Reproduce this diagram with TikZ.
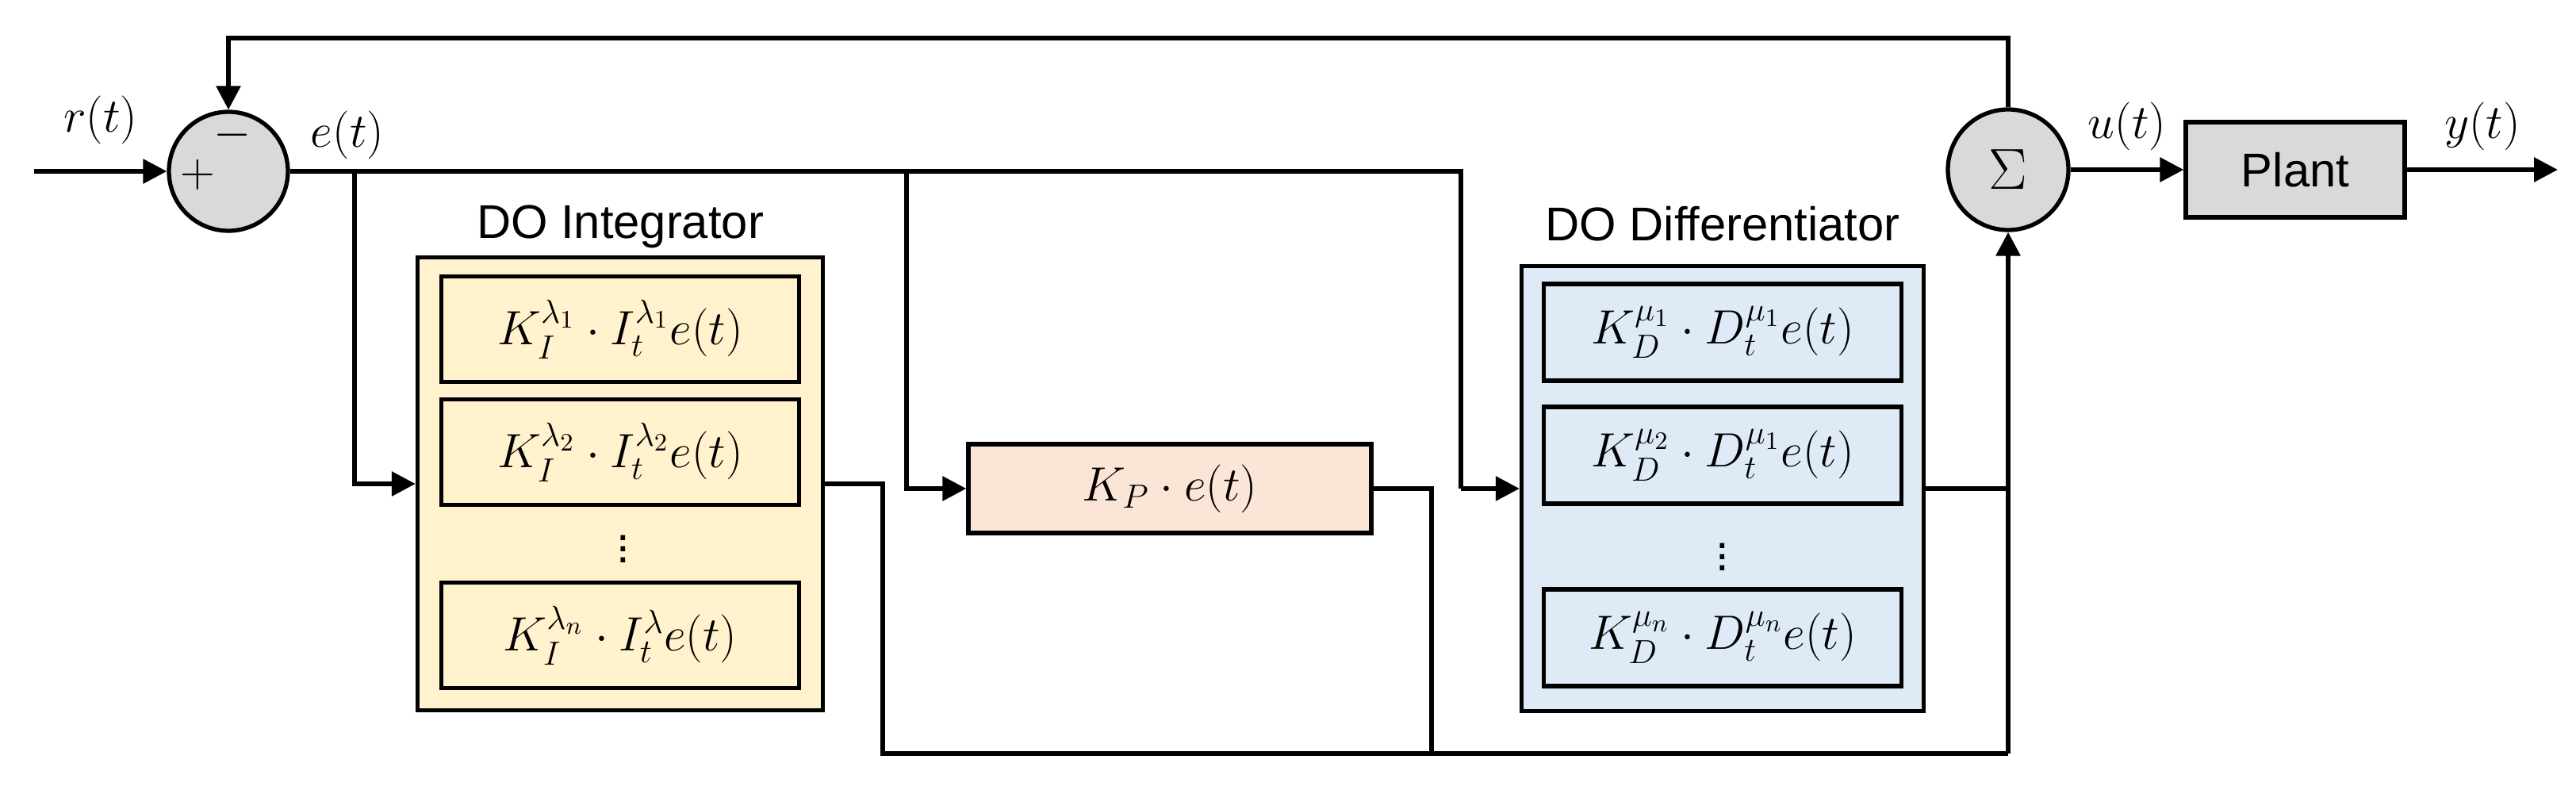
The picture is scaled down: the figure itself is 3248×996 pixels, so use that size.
\documentclass[tikz,border=0pt]{standalone}
\usepackage{fontspec}
\setmainfont{Liberation Sans}
\usepackage{amsmath}
\usetikzlibrary{arrows.meta}
\definecolor{intfill}{RGB}{255,242,204}
\definecolor{difffill}{RGB}{222,235,247}
\definecolor{kpfill}{RGB}{251,229,214}
\definecolor{grayfill}{RGB}{217,217,217}
\tikzset{
  wire/.style={line width=1.7pt},
  sig/.style={wire,-{Triangle[length=3mm,width=3mm]}},
  sumnode/.style={circle,draw,line width=1.5pt,fill=grayfill,minimum size=15mm,inner sep=0pt},
  outer/.style={draw,line width=1.5pt,inner sep=0pt},
  term/.style={draw,line width=1.5pt,inner sep=0pt,minimum width=45.1mm,minimum height=13.3mm,font=\fontsize{18}{20}\selectfont},
  lbl/.style={font=\fontsize{17}{20}\selectfont}
}
\begin{document}
\begin{tikzpicture}[x=0.1mm,y=0.1mm,yscale=-1,xscale=1]
\useasboundingbox (0,0) rectangle (3248,996);

%summing junctions and plant
\node[sumnode] (sumA) at (288,216) {};
\node[lbl] at (293,170) {$-$};
\node[lbl] at (249,220) {$+$};
\node[sumnode,minimum size=15.2mm] (sumB) at (2532,214) {\fontsize{22}{24}\selectfont$\Sigma$};
\node[draw,line width=1.5pt,fill=grayfill,minimum width=27.6mm,minimum height=12mm,lbl] (plant) at (2894,214) {Plant};

%DO integrator
\node[outer,fill=intfill,minimum width=51.1mm,minimum height=57.1mm] (integ) at (782,610) {};
\node[lbl] at (782,286) {DO Integrator};
\node[term] (i1) at (782,415) {$K_I^{\lambda_1}\cdot I_t^{\lambda_1}e(t)$};
\node[term] (i2) at (782,570) {$K_I^{\lambda_2}\cdot I_t^{\lambda_2}e(t)$};
\node[lbl] at (786,682) {$\vdots$};
\node[term] (i3) at (782,801) {$K_I^{\lambda_n}\cdot I_t^{\lambda}e(t)$};

%proportional
\node[draw,line width=1.5pt,fill=kpfill,minimum width=50.8mm,minimum height=11.2mm,font=\fontsize{18}{20}\selectfont] (kp) at (1475,616) {$K_P\cdot e(t)$};

%DO differentiator
\node[outer,fill=difffill,minimum width=50.7mm,minimum height=56.1mm] (diff) at (2172,616) {};
\node[lbl] at (2172,282) {DO Differentiator};
\node[term,minimum width=45.1mm,minimum height=12.2mm] (d1) at (2172,419) {$K_D^{\mu_1}\cdot D_t^{\mu_1}e(t)$};
\node[term,minimum width=45.1mm,minimum height=12.2mm] (d2) at (2172,574) {$K_D^{\mu_2}\cdot D_t^{\mu_1}e(t)$};
\node[lbl] at (2172,692) {$\vdots$};
\node[term,minimum width=45.1mm,minimum height=12.2mm] (d3) at (2172,804) {$K_D^{\mu_n}\cdot D_t^{\mu_n}e(t)$};

%connectors
\coordinate (rin) at (43,216);
\coordinate (yout) at (3225,214);
\draw[sig] (rin) -- node[lbl,above=2mm] {$r(t)$} (sumA);
\draw[wire] (sumA.east) -- (1842,216) -- (1842,616) coordinate (dturn);
\draw[sig] (dturn) -- (diff.west);
\node[lbl] at (438,170) {$e(t)$};
\draw[sig] (447,216) |- (integ.west);
\draw[sig] (1143,216) |- (kp.west);
\draw[wire] (integ.east) -| (1113,950) -- (2532,950) coordinate (bot);
\draw[wire] (kp.east) -| (1805,950);
\draw[wire] (diff.east) -- (2532,616);
\draw[sig] (bot) -- (sumB.south);
\draw[sig] (sumB.north) |- (288,48) -- (sumA.north);
\draw[sig] (sumB) -- node[lbl,above=1mm] {$u(t)$} (plant);
\draw[sig] (plant) -- node[lbl,above=1mm] {$y(t)$} (yout);

\end{tikzpicture}
\end{document}
